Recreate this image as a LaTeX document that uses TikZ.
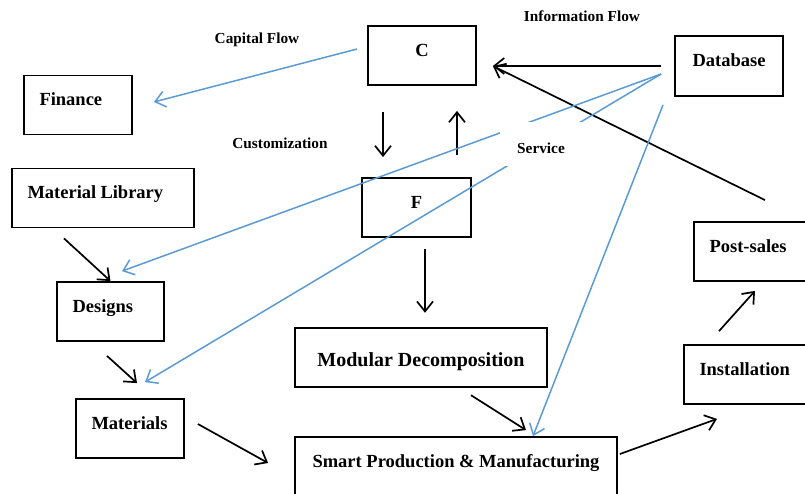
\documentclass[tikz,border=0pt]{standalone}
\usepackage{tikz}
\usetikzlibrary{shapes,arrows,arrows.meta,positioning,calc}
\usepackage{fontspec}
\setmainfont{Liberation Serif}
\definecolor{flowblue}{RGB}{91,155,213}

\begin{document}
\begin{tikzpicture}[x=1pt, y=-1pt,
    box/.style={draw, line width=1.8pt, inner sep=0pt, minimum height=59pt,
        text height=12pt, text depth=10pt, font=\fontsize{18.5}{22}\selectfont\bfseries},
    lbox/.style={box, inner xsep=15.5pt, align=left, text width=#1},
    tag/.style={anchor=base, font=\fontsize{15.3}{18}\selectfont\bfseries},
    arr/.style={->, line width=1.7pt},
    barr/.style={->, line width=1.5pt, draw=flowblue},
    >={Straight Barb[length=10pt,width=16pt]}]

    % Frame
    \useasboundingbox (0, 0) rectangle (805, 494);
    \clip (0, 0) rectangle (805, 494);

    % Boxes, text centred
    \node[box, minimum width=108pt] (c) at (422, 55.5) {C};
    \node[box, minimum width=108pt, minimum height=60pt] (db) at (729, 66) {Database};
    \node[box, minimum width=109pt] (f) at (416.5, 207.5) {F};
    \node[box, minimum width=252pt, line width=2.4pt, text height=17pt, text depth=0pt,
        font=\fontsize{20}{24}\selectfont\bfseries] (mod) at (421, 357.5) {Modular Decomposition};
    \node[box, minimum width=322pt] (smart) at (456, 466.5) {Smart Production \& Manufacturing};

    % Boxes, text to the left
    \foreach \name/\x/\y/\w/\label in {fin/78/105/77/Finance, lib/103/198/151/Material\hspace{-2pt} Library,
        des/110.5/311.5/76/Designs, mat/130/428.5/77/Materials,
        post/755.5/251.5/92/Post-sales, inst/751.5/374.5/104/Installation} {
        \node[lbox=\w pt] (\name) at (\x, \y) {\label};
    }

    % Flow labels
    \node[tag] (capital) at (257, 43.3) {Capital Flow};
    \node[tag] (custom) at (280, 149) {Customization};
    \node[tag] (info) at (582, 21.7) {Information Flow};

    % Black arrows
    \draw[arr] ([shift={(-13,0)}]db.west) -- ([shift={(16,10.5)}]c.east);
    \draw[arr] ([shift={(9.5,-21)}]post.north) -- ([shift={(16,10.5)}]c.east);
    \draw[arr] ([shift={(-39,26)}]c.south) -- ([shift={(-33.5,-20)}]f.north);
    \draw[arr] ([shift={(40.5,-22)}]f.north) -- ([shift={(35,25)}]c.south);
    \draw[arr] ([shift={(8.5,11)}]f.south) -- ([shift={(4,-14)}]mod.north);
    \draw[arr] ([shift={(-39,10)}]lib.south) -- (des.north);
    \draw[arr] ([shift={(-3.5,14)}]des.south) -- ([shift={(7,-15)}]mat.north);
    \draw[arr] ([shift={(13,-4.5)}]mat.east) -- ([shift={(-26,-3.5)}]smart.west);
    \draw[arr] ([shift={(50,7)}]mod.south) -- ([shift={(70,-6)}]smart.north);
    \draw[arr] ([shift={(2,-12.5)}]smart.east) -- ([shift={(-34.5,14)}]inst.south);
    \draw[arr] ([shift={(-32.5,-13)}]inst.north) -- ([shift={(-0.5,9)}]post.south);

    % Blue arrows
    \draw[barr] ([shift={(-10,-6.5)}]c.west) -- ([shift={(21,-3)}]fin.east);
    \draw[barr] ([shift={(-13,8)}]db.west) -- ([shift={(11.5,-10)}]des.north);
    \draw[barr] ([shift={(-13,8)}]db.west) -- ([shift={(15,-16)}]mat.north);
    \draw[barr] ([shift={(-66,8)}]db.south) -- ([shift={(77,0)}]smart.north);

    % Service label over the blue lines
    \node[tag, anchor=center, fill=white, inner sep=0pt, minimum width=82pt, minimum height=44pt,
        text height=20pt, text depth=0pt] (serv) at (541, 144) {Service};

\end{tikzpicture}
\end{document}
